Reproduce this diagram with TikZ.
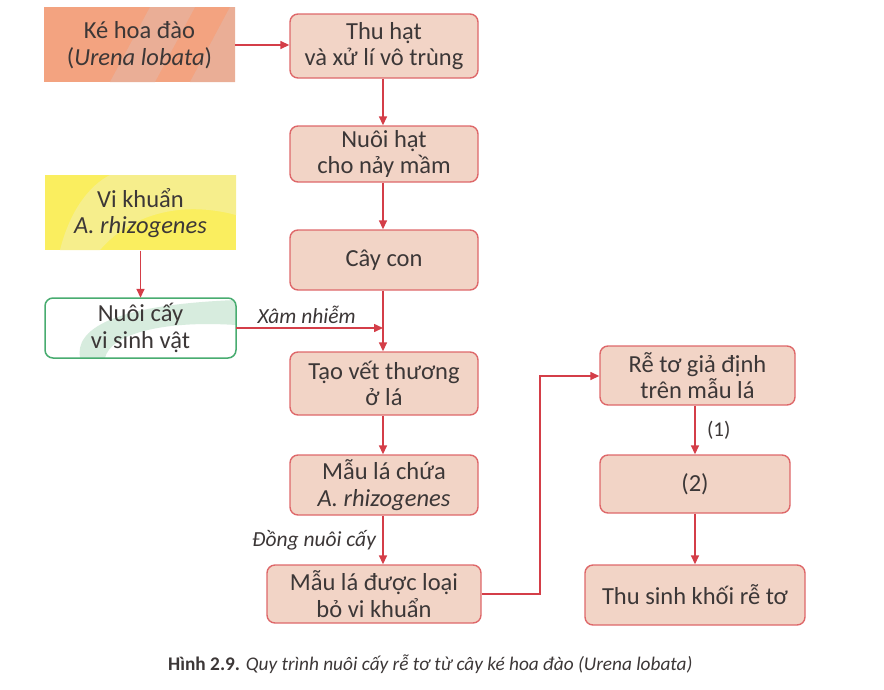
\documentclass[tikz,border=0pt]{standalone}
\usepackage{fontspec}
\setmainfont{Carlito}
\usetikzlibrary{arrows.meta}
\definecolor{ink}{RGB}{60,55,55}
\definecolor{arr}{RGB}{212,62,72}
\definecolor{pbox}{RGB}{242,212,198}
\definecolor{pline}{RGB}{222,104,106}
\definecolor{salmon}{RGB}{243,163,128}
\definecolor{salmon2}{RGB}{234,174,150}
\definecolor{yel}{RGB}{250,238,95}
\definecolor{yel2}{RGB}{246,238,140}
\definecolor{grn}{RGB}{72,172,112}
\definecolor{grnlt}{RGB}{215,236,222}
\tikzset{
  every node/.style={font=\fontsize{24.5}{26.5}\selectfont, text=ink, align=center},
  proc/.style={draw=pline, line width=1.4pt, fill=pbox, rounded corners=8pt, inner sep=0pt},
  flow/.style={draw=arr, line width=1.5pt, -{Triangle[length=9pt,width=8pt]}},
  lbl/.style={font=\fontsize{21.5}{24}\selectfont\itshape}
}
\begin{document}
\begin{tikzpicture}[x=1pt,y=-1pt]
\useasboundingbox (0,0) rectangle (884,689);
% left boxes
\fill[salmon] (44,7) rectangle (235,82);
\begin{scope}
\clip (44,7) rectangle (235,82);
\fill[salmon2] (110,82) -- (150,7) -- (195,7) -- (155,82) -- cycle;
\fill[salmon2] (190,82) -- (230,7) -- (235,7) -- (235,82) -- cycle;
\end{scope}
\node[minimum width=191pt, minimum height=75pt] (ke) at (139.5,45) {Ké hoa đào\\(\textit{Urena lobata})};
\fill[yel] (45,175) rectangle (236,250);
\begin{scope}
\clip (45,175) rectangle (236,250);
\fill[yel2] (60,250) .. controls (70,210) and (90,185) .. (110,175) -- (236,175) -- (236,215) .. controls (180,200) and (130,215) .. (100,250) -- cycle;
\end{scope}
\node[minimum width=191pt, minimum height=75pt] (vk) at (140.5,213) {Vi khuẩn\\\textit{A. rhizogenes}};
\begin{scope}
\clip[rounded corners=8pt] (45,298) rectangle (236,358);
\fill[white] (45,298) rectangle (236,358);
\fill[grnlt] (80,358) .. controls (75,330) and (110,305) .. (236,300) -- (236,325) .. controls (160,320) and (110,335) .. (105,358) -- cycle;
\end{scope}
\draw[grn, line width=1.5pt, rounded corners=8pt] (45,298) rectangle (236,358);
\node[minimum width=191pt, minimum height=60pt] (nc) at (140.5,328) {Nuôi cấy\\vi sinh vật};
% middle column
\node[proc, minimum width=188pt, minimum height=64pt] (th) at (384,46) {Thu hạt\\và xử lí vô trùng};
\node[proc, minimum width=188pt, minimum height=56pt] (nh) at (384,154) {Nuôi hạt\\cho nảy mầm};
\node[proc, minimum width=188pt, minimum height=60pt] (cc) at (384,260) {Cây con};
\node[proc, minimum width=188pt, minimum height=63pt] (tv) at (384,383.5) {Tạo vết thương\\ở lá};
\node[proc, minimum width=188pt, minimum height=60pt] (ml) at (384,485) {Mẫu lá chứa\\\textit{A. rhizogenes}};
\node[proc, minimum width=214pt, minimum height=58pt] (mlb) at (374,594) {Mẫu lá được loại\\bỏ vi khuẩn};
% right column
\node[proc, minimum width=195pt, minimum height=59pt] (rt) at (697.5,375.5) {Rễ tơ giả định\\trên mẫu lá};
\node[proc, minimum width=190pt, minimum height=58pt] (p2) at (695,484) {(2)};
\node[proc, minimum width=220pt, minimum height=60pt] (ts) at (695,595) {Thu sinh khối rễ tơ};
% connectors
\draw[flow] (ke.east |- 0,45) -- (th.west |- 0,45);
\draw[flow] (th.south -| 383,0) -- (nh.north -| 383,0);
\draw[flow] (nh.south -| 383,0) -- (cc.north -| 383,0);
\draw[flow] (cc.south -| 383,0) -- (tv.north -| 383,0);
\coordinate (xm) at (383,328);
\draw[flow] (nc.east |- xm) -- (xm) node[lbl, pos=0.48, above=0pt] {Xâm nhiễm};
\draw[flow] (vk.south) -- (nc.north);
\draw[flow] (tv.south -| 383,0) -- (ml.north -| 383,0);
\draw[flow] (ml.south -| 383,0) -- (mlb.north -| 383,0) node[lbl, midway, left=3pt] {Đồng nuôi cấy};
\draw[flow] (mlb.east) -- (540,594) -- (540,376) -- (rt.west |- 0,376);
\draw[flow] (rt.south -| 695,0) -- (p2.north -| 695,0) node[midway, right=8pt, font=\fontsize{21}{23}\selectfont] {(1)};
\draw[flow] (p2.south -| 695,0) -- (ts.north -| 695,0);
% caption
\node[anchor=west, inner sep=0pt, font=\fontsize{19.3}{21}\selectfont] (cap) at (168,664) {\textbf{Hình 2.9.} \textit{Quy trình nuôi cấy rễ tơ từ cây ké hoa đào (Urena lobata)}};
\end{tikzpicture}
\end{document}
